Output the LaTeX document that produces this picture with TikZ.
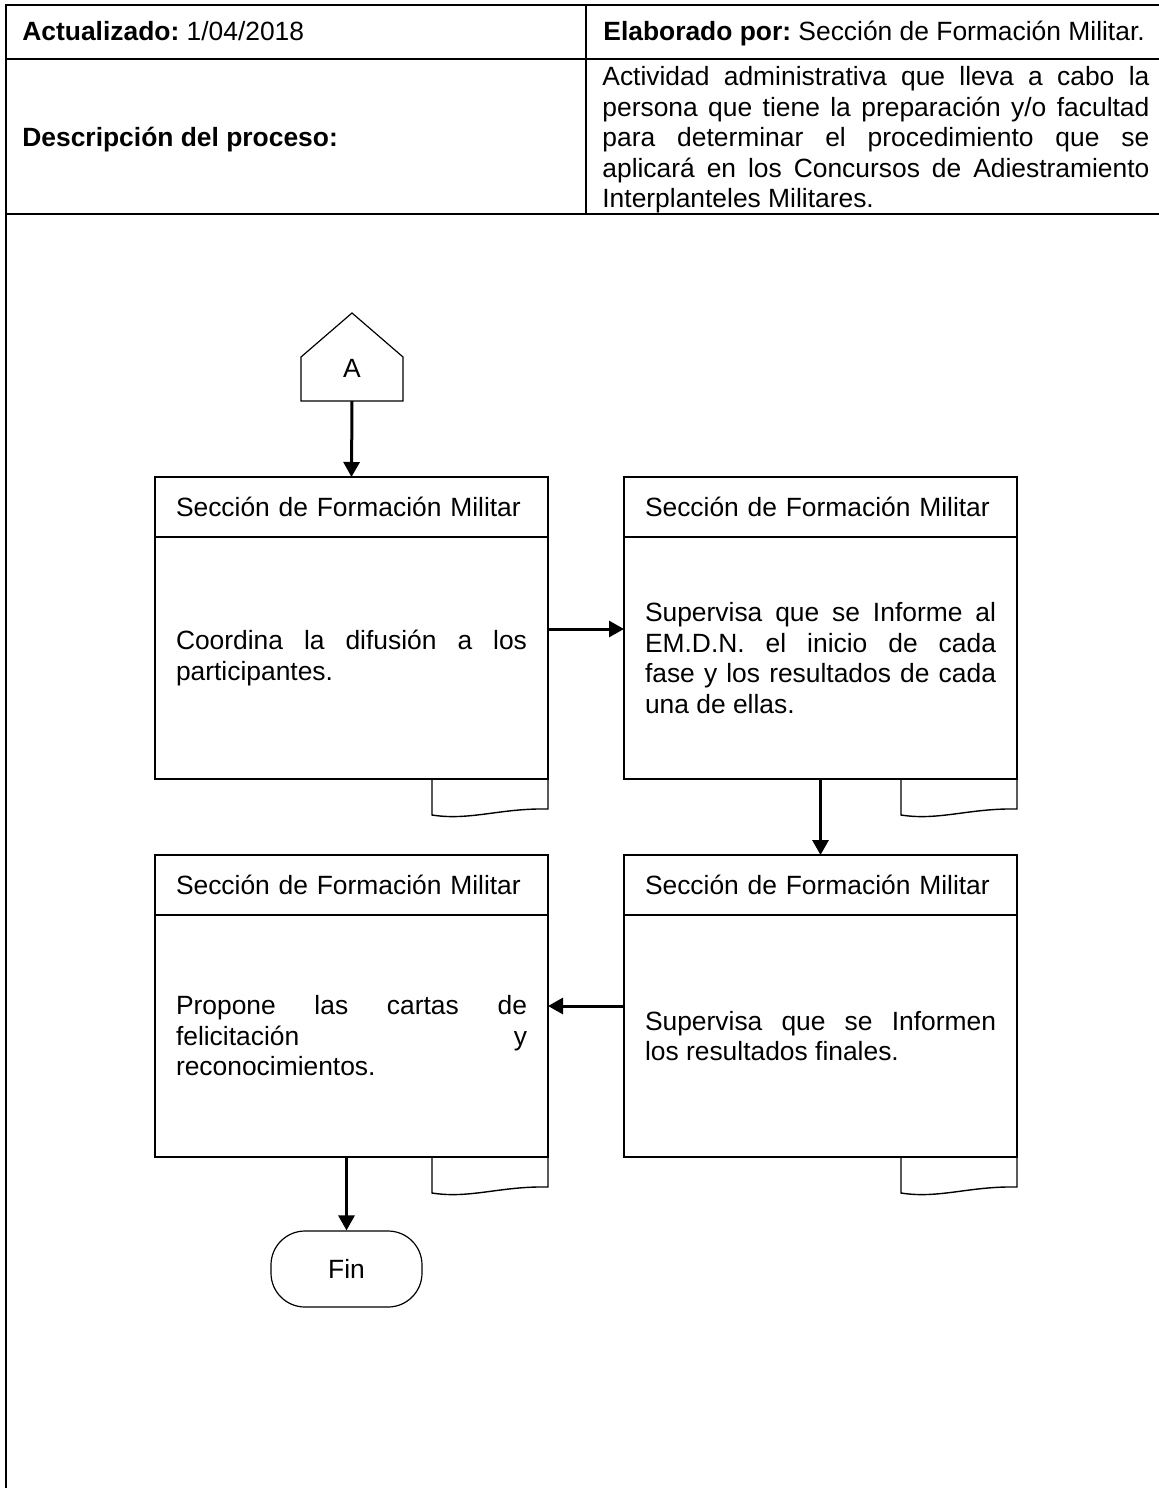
\documentclass[tikz,border=0pt]{standalone}
\usepackage{fontspec}
\setmainfont{Liberation Sans}
\usetikzlibrary{positioning,arrows.meta}
\hyphenpenalty=10000
\tolerance=10000
\frenchspacing

\tikzset{
  frame/.style={line width=0.8pt},
  hdr/.style={draw, line width=0.7pt, outer sep=0pt, minimum width=196.5pt, minimum height=30pt,
    text width=175.5pt, inner xsep=10.5pt, inner ysep=0pt, align=left},
  act/.style={hdr, minimum height=121pt, align=justify},
  cell/.style={inner sep=0pt, anchor=west, text height=9.5pt, text depth=2.8pt},
  flow/.style={-{Triangle[width=8pt,length=7.5pt]}, line width=1.5pt},
  offpage/.style={minimum width=51pt, minimum height=22pt, inner sep=0pt, outer sep=0pt,
    text height=9.5pt, text depth=11pt},
  fin/.style={draw, line width=0.6pt, rounded corners=17pt, minimum width=75.5pt, minimum height=38pt},
}

\newcommand{\doctab}[1]{%
  \draw[line width=0.7pt] ([xshift=-58pt]#1.south east) -- ([xshift=-58pt,yshift=-18pt]#1.south east)
    .. controls ([xshift=-39pt,yshift=-21pt]#1.south east) and ([xshift=-24pt,yshift=-14.5pt]#1.south east)
    .. ([yshift=-15pt]#1.south east) -- (#1.south east);}

\begin{document}
\begin{tikzpicture}[x=0.5pt, y=-0.5pt, font=\fontsize{13.2pt}{15.25pt}\selectfont]
  \useasboundingbox (0,0) rectangle (1159,1488);
  \draw[frame] (6,1488) -- (6,5) -- (1159,5);
  \draw[frame] (6,59) -- (1159,59);
  \draw[frame] (6,214) -- (1159,214);
  \draw[frame] (586,5) -- (586,214);

  \node[cell] (upd) at (22,34) {\textbf{Actualizado:} 1/04/2018};
  \node[cell] (elab) at (603,34) {\textbf{Elaborado por:} Sección de Formación Militar.};
  \node[cell] (desc) at (22,140) {\textbf{Descripción del proceso:}};
  \node[inner sep=0pt, anchor=west, text width=273.5pt, align=justify] (proc) at (602,140)
    {Actividad administrativa que lleva a cabo la\break persona que tiene la preparación y/o facultad\break
     para determinar el procedimiento que se\break aplicará en los Concursos de Adiestramiento\break
     Interplanteles Militares.};

  \node[offpage] (A) at (352,379) {A};
  \draw[line width=0.6pt] (A.south west) -- (A.north west) -- ([yshift=22pt]A.north)
    -- (A.north east) -- (A.south east) -- cycle;

  \node[hdr] (h1) at (351.5,507) {Sección de Formación Militar};
  \node[act, below=0pt of h1] (b1) {Coordina la difusión a los\break participantes.};
  \node[hdr] (h2) at (820.5,507) {Sección de Formación Militar};
  \node[act, below=0pt of h2] (b2) {Supervisa que se Informe al\break EM.D.N. el inicio de cada\break
    fase y los resultados de cada\break una de ellas.};
  \node[hdr] (h3) at (351.5,885) {Sección de Formación Militar};
  \node[act, below=0pt of h3] (b3) {Propone las cartas de\break felicitación y\break reconocimientos.};
  \node[hdr] (h4) at (820.5,885) {Sección de Formación Militar};
  \node[act, below=0pt of h4] (b4) {Supervisa que se Informen\break los resultados finales.};
  \doctab{b1}
  \doctab{b2}
  \doctab{b3}
  \doctab{b4}

  \node[fin] (end) at (346.5,1269) {Fin};

  \draw[flow] (A.south) -- (h1.north);
  \draw[flow] ([yshift=14.5pt]b1.east) -- ([yshift=14.5pt]b2.west);
  \draw[flow] (b2.south) -- (h4.north);
  \draw[flow] ([yshift=15pt]b4.west) -- ([yshift=15pt]b3.east);
  \draw[flow] (end.north |- b3.south) -- (end.north);
\end{tikzpicture}
\end{document}
